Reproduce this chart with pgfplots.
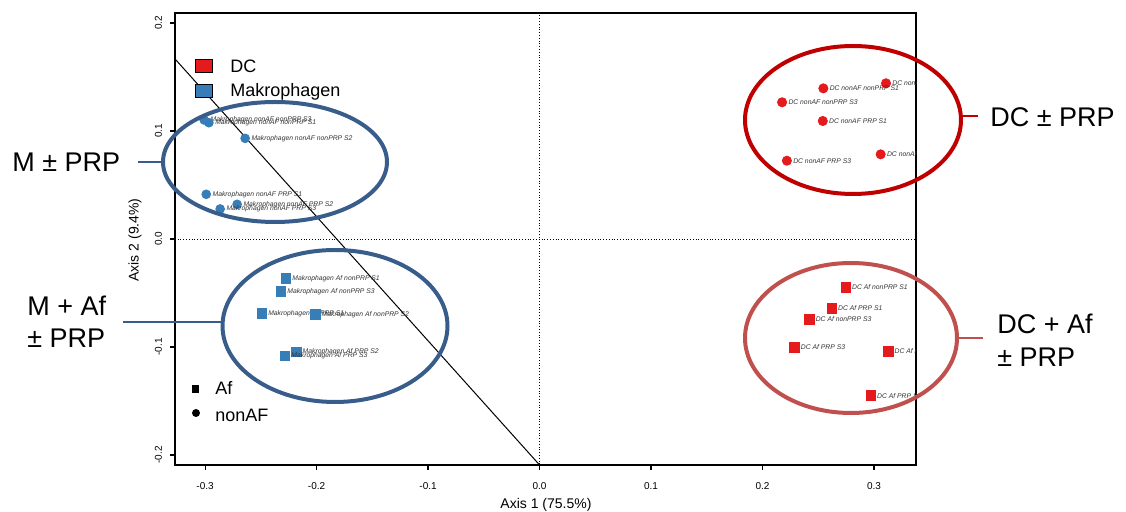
\documentclass[border=0pt]{standalone}
\usepackage{fontspec}
\setmainfont{Liberation Sans}
\usepackage{pgfplots}
\pgfplotsset{compat=1.18}
\definecolor{dcred}{HTML}{E41A1C}
\definecolor{mblue}{HTML}{377EB8}
\definecolor{ellblue}{HTML}{385D8A}
\definecolor{elldred}{HTML}{C00000}
\definecolor{ellred}{HTML}{C0504D}
\pgfplotsset{
  lbl/.style={nodes near coords, point meta=explicit symbolic,
    nodes near coords style={anchor=west, inner sep=0pt, xshift=3pt,
      font=\fontsize{3.4}{4}\itshape, text=black!80}}
}
\begin{document}
\begin{tikzpicture}
\useasboundingbox (0pt,0pt) rectangle (563pt,-256pt);
\begin{axis}[
  at={(87.5pt,-232.5pt)}, anchor=south west,
  scale only axis, width=370.5pt, height=226pt,
  xmin=-0.327, xmax=0.3376, ymin=-0.2093, ymax=0.2093,
  clip marker paths=true,
  axis line style={line width=0.6pt},
  xtick={-0.3,-0.2,-0.1,0,0.1,0.2,0.3}, ytick={-0.2,-0.1,0,0.1,0.2},
  tick align=outside, tick pos=left, major tick length=2.5pt,
  tick style={line width=0.6pt, black},
  /pgf/number format/.cd, fixed, fixed zerofill, precision=1, assume math mode=true, /pgfplots/.cd,
  xticklabel style={font=\fontsize{5}{6}\selectfont, inner sep=0pt, anchor=north},
  yticklabel style={font=\fontsize{5}{6}\selectfont, inner sep=0pt, rotate=90, anchor=south},
  xticklabel shift=6.3pt, yticklabel shift=3.8pt,
]
\addplot[densely dotted, line width=0.4pt] coordinates {(0,-0.25) (0,0.25)};
\addplot[densely dotted, line width=0.4pt] coordinates {(-0.4,0) (0.4,0)};
\addplot[black, line width=0.5pt] coordinates {(-0.35,0.1932) (0,-0.2093)};
% Makrophagen nonAF (circles)
\addplot[only marks, mark=*, mark size=2.2pt, color=mblue, lbl] table[meta=label, col sep=comma, row sep=\\] {
x,y,label\\
-0.3008,0.1102,Makrophagen nonAF nonPRP S3\\
-0.2966,0.1077,Makrophagen nonAF nonPRP S1\\
-0.2641,0.0932,Makrophagen nonAF nonPRP S2\\
-0.2990,0.0414,Makrophagen nonAF PRP S1\\
-0.2713,0.0321,Makrophagen nonAF PRP S2\\
-0.2865,0.0278,Makrophagen nonAF PRP S3\\
};
% Makrophagen Af (squares)
\addplot[only marks, mark=square*, mark size=2.4pt, color=mblue, lbl] table[meta=label, col sep=comma, row sep=\\] {
x,y,label\\
-0.2274,-0.0364,Makrophagen Af nonPRP S1\\
-0.2319,-0.0488,Makrophagen Af nonPRP S3\\
-0.2491,-0.0688,Makrophagen Af PRP S1\\
-0.2012,-0.0697,Makrophagen Af nonPRP S2\\
-0.2182,-0.1044,Makrophagen Af PRP S2\\
-0.2283,-0.1081,Makrophagen Af PRP S3\\
};
% DC nonAF (circles)
\addplot[only marks, mark=*, mark size=2.3pt, color=dcred, lbl] table[meta=label, col sep=comma, row sep=\\] {
x,y,label\\
0.3107,0.1442,DC nonAF nonPRP S2\\
0.2545,0.1395,DC nonAF nonPRP S1\\
0.2175,0.1266,DC nonAF nonPRP S3\\
0.2540,0.1093,DC nonAF PRP S1\\
0.2218,0.0725,DC nonAF PRP S3\\
0.3059,0.0784,DC nonAF PRP S2\\
};
% DC Af (squares)
\addplot[only marks, mark=square*, mark size=2.4pt, color=dcred, lbl] table[meta=label, col sep=comma, row sep=\\] {
x,y,label\\
0.2746,-0.0447,DC Af nonPRP S1\\
0.2620,-0.0642,DC Af PRP S1\\
0.2420,-0.0744,DC Af nonPRP S3\\
0.2286,-0.1003,DC Af PRP S3\\
0.3127,-0.1040,DC Af nonPRP S2\\
0.2970,-0.1451,DC Af PRP S2\\
};
\end{axis}
\begin{scope}[x=0.5pt, y=-0.5pt]
% hide point labels running past the plot frame (as in the reference)
\fill[white] (916.8,12) rectangle (985,467);
% axis titles
\node[font=\fontsize{7}{8}\selectfont, anchor=base] at (546,509) {Axis 1 (75.5\%)};
\node[font=\fontsize{7}{8}\selectfont, rotate=90] at (135,240) {Axis 2 (9.4\%)};
% ellipses
\draw[ellblue, line width=2pt] (275,162) ellipse [x radius=112, y radius=60];
\draw[ellblue, line width=2pt] (335,326) ellipse [x radius=112.5, y radius=76];
\draw[elldred, line width=2pt] (853,120) ellipse [x radius=108, y radius=74];
\draw[ellred, line width=2pt] (851,338) ellipse [x radius=106, y radius=75];
% connectors
\draw[ellblue, line width=1.3pt] (138,162) -- (163,162);
\draw[ellblue, line width=1.3pt] (123,322) -- (223,322);
\draw[elldred, line width=1.3pt] (960,116) -- (978,116);
\draw[ellred, line width=1.3pt] (957,338) -- (983,338);
% annotations
\begin{scope}[every node/.style={font=\fontsize{13.5}{16}\selectfont, anchor=base west, inner sep=0pt}]
\node at (12,172) {M ± PRP};
\node at (27,316) {M + Af};
\node at (27,348) {± PRP};
\node at (990,127) {DC ± PRP};
\node at (997,334) {DC + Af};
\node at (997,367) {± PRP};
\end{scope}
% legends
\draw[black, line width=0.4pt, fill=dcred] (195,59) rectangle (212,72);
\draw[black, line width=0.4pt, fill=mblue] (195,84) rectangle (212,97);
\fill[black] (192,385) rectangle (199,393);
\fill[black] (196,413) circle [radius=4];
\begin{scope}[every node/.style={font=\fontsize{9}{11}\selectfont, anchor=base west, inner sep=0pt}]
\node at (230,73) {DC};
\node at (230,97) {Makrophagen};
\node at (215,395) {Af};
\node at (215,422) {nonAF};
\end{scope}
\end{scope}
\end{tikzpicture}
\end{document}
